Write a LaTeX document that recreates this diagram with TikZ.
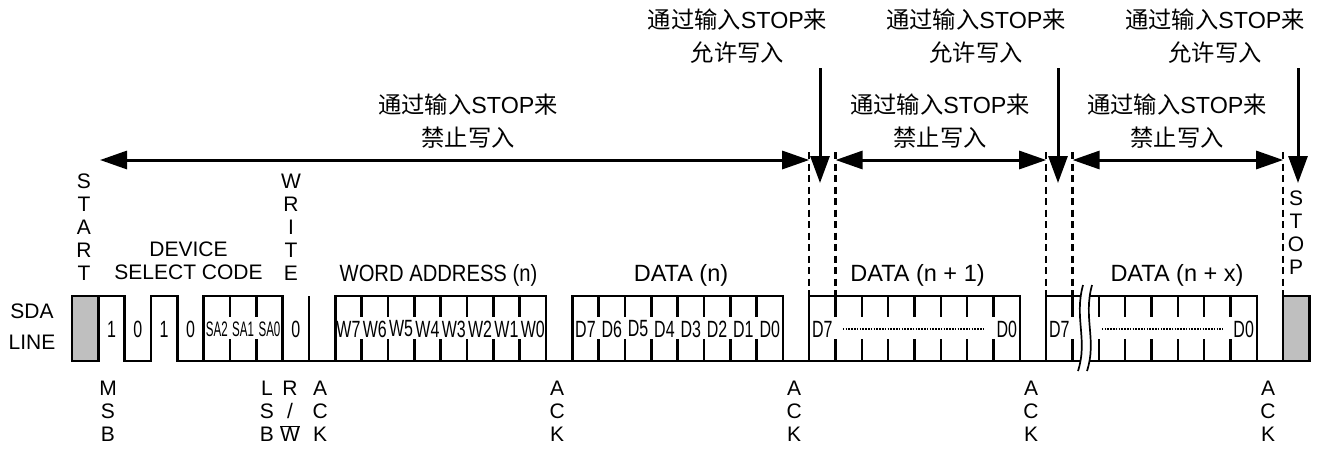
\documentclass[tikz,border=0pt]{standalone}
\usepackage{fontspec}
\setmainfont{Liberation Sans}
\newfontfamily\cjk{Noto Sans CJK SC}
\newfontfamily\bitfont[FakeStretch=0.68]{Liberation Sans}
\newfontfamily\safont[FakeStretch=0.55]{Liberation Sans}
\newfontfamily\wordfont[FakeStretch=0.86]{Liberation Sans}
\usetikzlibrary{arrows.meta}
\tikzstyle{wave} = [line width=2.5pt]
\tikzstyle{cond} = [wave, fill=gray!50]
\tikzstyle{tick} = [line width=2.5pt]
\tikzstyle{guide} = [line width=2.3pt, dash pattern=on 7pt off 4.5pt]
\tikzstyle{dotline} = [line width=2.8pt, dash pattern=on 1.6pt off 1.2pt]
\tikzstyle{stoparrow} = [line width=3pt, -{Triangle[length=27pt,width=19pt]}]
\tikzstyle{stopspan} = [line width=3pt, {Triangle[length=27pt,width=18pt]}-{Triangle[length=27pt,width=18pt]}]
\tikzstyle{vlabel} = [inner sep=0pt, anchor=south, align=center, font=\fontsize{21}{23}\selectfont]
\tikzstyle{field} = [inner sep=0pt, anchor=base, font=\fontsize{23.5}{24}\selectfont]
\tikzstyle{bit} = [inner sep=0pt, font=\bitfont\fontsize{23.5}{24}\selectfont]
\tikzstyle{sabit} = [inner sep=0pt, font=\safont\fontsize{21}{22}\selectfont]
\tikzstyle{note} = [inner sep=0pt, align=center, font=\fontsize{23.3}{33}\selectfont]

\begin{document}
\begin{tikzpicture}[x=1pt, y=-1pt, declare function={bx(\k)=72+26.33*\k;}]
	\useasboundingbox (0,0) rectangle (1323,448);
	\coordinate (hi) at (0,296);

	\node[note] (dis1) at (468,121) {{\cjk 通过输入}STOP{\cjk 来}\\{\cjk 禁止写入}};
	\node[note] (dis2) at (940,121) {{\cjk 通过输入}STOP{\cjk 来}\\{\cjk 禁止写入}};
	\node[note] (dis3) at (1177,121) {{\cjk 通过输入}STOP{\cjk 来}\\{\cjk 禁止写入}};
	\node[note] (en1) at (737.5,36) {{\cjk 通过输入}STOP{\cjk 来}\\{\cjk 允许写入}};
	\node[note] (en2) at (976,36) {{\cjk 通过输入}STOP{\cjk 来}\\{\cjk 允许写入}};
	\node[note] (en3) at (1215,36) {{\cjk 通过输入}STOP{\cjk 来}\\{\cjk 允许写入}};

	\coordinate (w0) at (100,160);
	\foreach \k [count=\i] in {28,29,37,38,46}
		\coordinate (g\i) at ({bx(\k)},160);
	\foreach \i in {1,...,5}
		\draw[guide] ([yshift=8pt]g\i) -- (g\i |- hi);
	\draw[stopspan] (w0) -- (g1);
	\draw[stopspan] (g2) -- (g3);
	\draw[stopspan] (g4) -- (g5);
	\foreach \x [count=\i] in {820,1058,1298} {
		\coordinate (top\i) at (\x,68);
		\coordinate (tip\i) at (\x,183);
		\draw[stoparrow] (top\i) -- (tip\i);
	}

	\draw[cond] ({bx(0)},296) rectangle ({bx(1)},361);
	\draw[wave] ({bx(1)},296) -| ({bx(2)},361) -| ({bx(3)},296) -| ({bx(4)},361) -- ({bx(46)},361);
	\foreach \a/\b in {5/8,10/18,19/27,28/36,37/45}
		\draw[wave] ({bx(\a)},296) rectangle ({bx(\b)},361);
	\draw[wave] ({bx(9)},296) -- ({bx(9)},361);
	\draw[cond] ({bx(46)},296) rectangle ({bx(47)},361);
	\foreach \k in {6,7,11,12,13,14,15,16,17,20,21,22,23,24,25,26,29,30,31,32,33,34,35,38,39,40,41,42,43,44}
		\draw[tick] ({bx(\k)},296) -- ({bx(\k)},317) ({bx(\k)},339) -- ({bx(\k)},361);

	\fill[white] (1083,285) .. controls (1074,318) and (1088,340) .. (1078,371) -- (1087,371) .. controls (1097,340) and (1083,318) .. (1092,285) -- cycle;
	\draw[line width=1.7pt] (1083,285) .. controls (1074,318) and (1088,340) .. (1078,371);
	\draw[line width=1.7pt] (1092,285) .. controls (1083,318) and (1097,340) .. (1087,371);

	\node[vlabel, font=\fontsize{21}{31.5}\selectfont] (sda) at (32,350) {SDA\\LINE};
	\foreach \t [count=\i] in {1,0,1,0}
		\node[bit] (dev\i) at ({bx(\i+0.5)},329) {\t};
	\foreach \t [count=\i from 5] in {SA2,SA1,SA0}
		\node[sabit] (sa\i) at ({bx(\i+0.5)},329) {\t};
	\node[bit] (rw) at ({bx(8.5)},329) {0};
	\foreach \i in {0,...,7}
		\node[bit] (w\i) at ({bx(17.5-\i)},329) {W\i};
	\foreach \i in {0,...,7}
		\node[bit] (d\i) at ({bx(26.5-\i)},329) {D\i};
	\node[bit] (ea7) at ({bx(28.5)},329) {D7};
	\node[bit] (ea0) at ({bx(35.5)},329) {D0};
	\node[bit] (eb7) at ({bx(37.5)},329) {D7};
	\node[bit] (eb0) at ({bx(44.5)},329) {D0};
	\coordinate (brk) at ({bx(39)},329);
	\draw[dotline, shorten <=10pt, shorten >=12pt] (ea7.east) -- (ea0.west);
	\draw[dotline, shorten <=3pt, shorten >=10pt] (brk) -- (eb0.west);

	\node[vlabel] (start) at (84,281) {S\\T\\A\\R\\T};
	\node[vlabel] (write) at (291,281) {W\\R\\I\\T\\E};
	\node[vlabel] (stop) at (1296,275) {S\\T\\O\\P};
	\node[vlabel] (device) at (188.5,280) {DEVICE\\SELECT CODE};
	\node[field] (word) at (438.5,281) {\wordfont WORD ADDRESS (n)};
	\node[field] (data) at (681,281) {DATA (n)};
	\node[field] (data1) at (917.5,281) {DATA (n + 1)};
	\node[field] (datax) at (1177,281) {DATA (n + x)};

	\node[vlabel] (msb) at (108,442) {M\\S\\B};
	\node[vlabel] (lsb) at (267,442) {L\\S\\B};
	\node[vlabel] (rwbar) at (290,442) {R\\/\\$\overline{\hbox{W}}$};
	\foreach \k [count=\i] in {9,18,27,36,45}
		\node[vlabel] (ack\i) at ({bx(\k+0.5)-2},442) {A\\C\\K};
\end{tikzpicture}
\end{document}
